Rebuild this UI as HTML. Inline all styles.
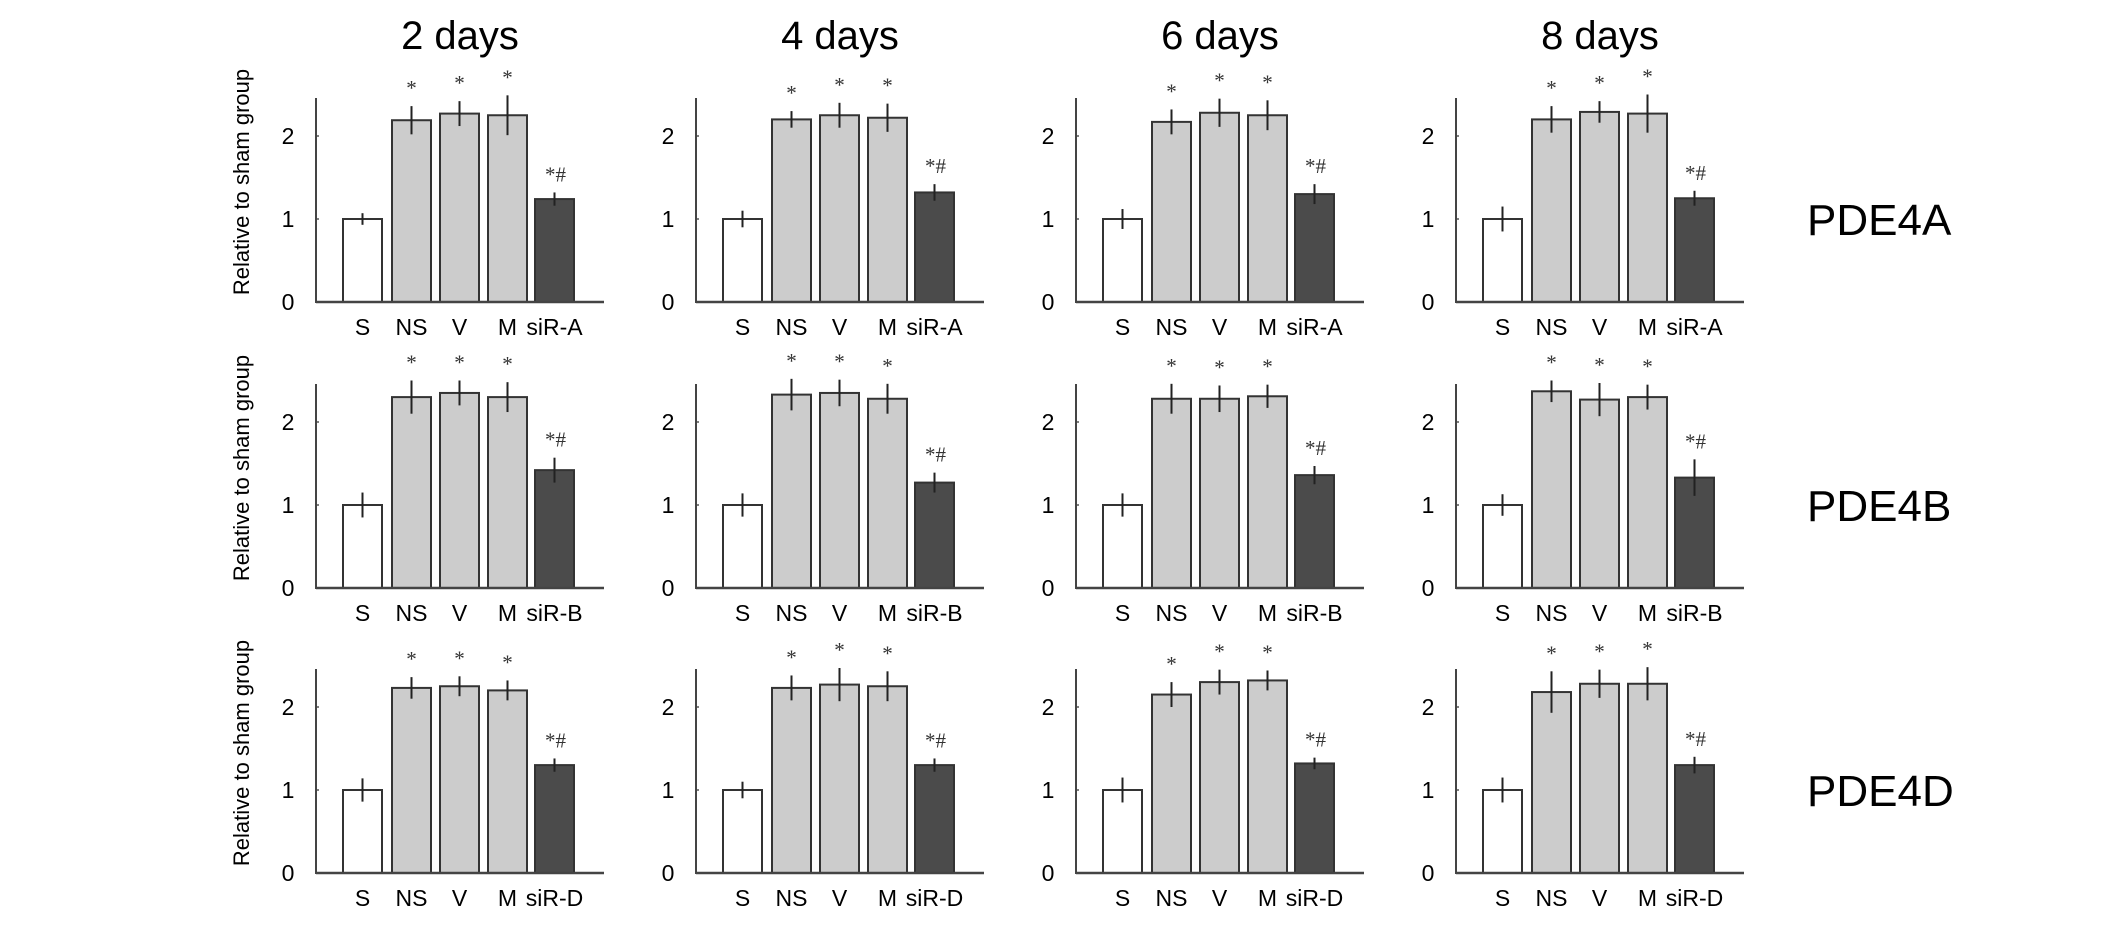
<!DOCTYPE html>
<html><head><meta charset="utf-8">
<style>
html,body{margin:0;padding:0;background:#fff;}
svg{display:block;font-family:"Liberation Sans",sans-serif;}
</style></head>
<body>
<svg id="fig" width="2126" height="928" viewBox="0 0 2126 928" xmlns="http://www.w3.org/2000/svg"></svg>
<script>
const days = ["2 days","4 days","6 days","8 days"];
const genes = ["PDE4A","PDE4B","PDE4D"];
const siLabels = ["siR-A","siR-B","siR-D"];
const groups = ["S","NS","V","M"];
// means[row][col] = [S, NS, V, M, siR]
const meansA = [[1.0,2.19,2.27,2.25,1.24],[1.0,2.2,2.25,2.22,1.32],[1.0,2.17,2.28,2.25,1.3],[1.0,2.2,2.29,2.27,1.25]];
const errsA  = [[0.07,0.17,0.15,0.24,0.08],[0.1,0.1,0.15,0.17,0.1],[0.12,0.15,0.17,0.18,0.12],[0.15,0.16,0.13,0.23,0.09]];
const meansB = [[1.0,2.3,2.35,2.3,1.42],[1.0,2.33,2.35,2.28,1.27],[1.0,2.28,2.28,2.31,1.36],[1.0,2.37,2.27,2.3,1.33]];
const errsB  = [[0.15,0.2,0.15,0.18,0.15],[0.14,0.19,0.16,0.18,0.12],[0.14,0.18,0.16,0.14,0.11],[0.13,0.13,0.2,0.15,0.22]];
const meansD = [[1.0,2.23,2.25,2.2,1.3],[1.0,2.23,2.27,2.25,1.3],[1.0,2.15,2.3,2.32,1.32],[1.0,2.18,2.28,2.28,1.3]];
const errsD  = [[0.14,0.13,0.12,0.12,0.08],[0.1,0.15,0.2,0.18,0.08],[0.15,0.15,0.15,0.12,0.07],[0.15,0.25,0.17,0.2,0.1]];
const yTicks = [0,1,2];
const marks = ["","*","*","*","*#"];

const allMeans=[meansA,meansB,meansD], allErrs=[errsA,errsB,errsD];
const svg=document.getElementById('fig');
const NS='http://www.w3.org/2000/svg';
function mk(tag,attrs,parent){const e=document.createElementNS(NS,tag);for(const k in attrs)e.setAttribute(k,attrs[k]);(parent||svg).appendChild(e);return e;}
const axisX0=316, colStep=380, baseYs=[302,588,873], unit=83;
const barOff=[27,76,124,172,219], barW=39, axisLen=288, axisTop=204;
const fills=["#ffffff","#cccccc","#cccccc","#cccccc","#4b4b4b"];

days.forEach((d,c)=>{
  const t=mk('text',{x:axisX0+c*colStep+144,y:49,'text-anchor':'middle','font-size':40,fill:'#000'});
  
  
  t.textContent=d;
});
genes.forEach((g,r)=>{
  const by=baseYs[r];
  const gl=mk('text',{x:1807,y:by-67,'font-size':44,fill:'#000'});
  
  
  gl.textContent=g;
  const yl=mk('text',{transform:`translate(249,${by-120}) rotate(-90)`,'text-anchor':'middle','font-size':22,fill:'#000'});
  
  
  yl.textContent='Relative to sham group';
  days.forEach((d,c)=>{
    const ax=axisX0+c*colStep;
    const y=v=>by-v*unit;
    const panel=mk('g',{});
    
    
    yTicks.forEach(tv=>{
      const tl=mk('text',{x:ax-28,y:y(tv)+8,'text-anchor':'middle','font-size':23,fill:'#000'},panel);
      
      
      tl.textContent=tv;
      mk('line',{x1:ax,x2:ax+3,y1:y(tv),y2:y(tv),stroke:'#555','stroke-width':1.5},panel);
    });
    const m=allMeans[r][c], e=allErrs[r][c];
    const labels=groups.concat([siLabels[r]]);
    m.forEach((v,i)=>{
      const bx=ax+barOff[i];
      const b=mk('rect',{x:bx,y:y(v),width:barW,height:v*unit,fill:fills[i],stroke:'#333','stroke-width':2},panel);
      
      
      const cx=bx+barW/2;
      const eb=mk('line',{x1:cx,x2:cx,y1:y(v+e[i]),y2:y(v-e[i]),stroke:'#222','stroke-width':2},panel);
      
      
      if(marks[i]){
        const s=mk('text',{x:cx+(i==4?1:0),y:y(v+e[i])-19+8,'text-anchor':'middle','font-size':21,fill:'#333','font-family':'"Liberation Serif",serif'},panel);
        
        
        s.textContent=marks[i];
      }
      const xl=mk('text',{x:cx,y:by+33,'text-anchor':'middle','font-size':23,fill:'#000'},panel);
      
      
      xl.textContent=labels[i];
    });
    const ya=mk('line',{x1:ax,x2:ax,y1:by-axisTop,y2:by+1,stroke:'#444','stroke-width':2},panel);
    
    
    const xa=mk('line',{x1:ax,x2:ax+axisLen,y1:by,y2:by,stroke:'#444','stroke-width':2.5},panel);
    
    
  });
});
</script>
</body></html>
